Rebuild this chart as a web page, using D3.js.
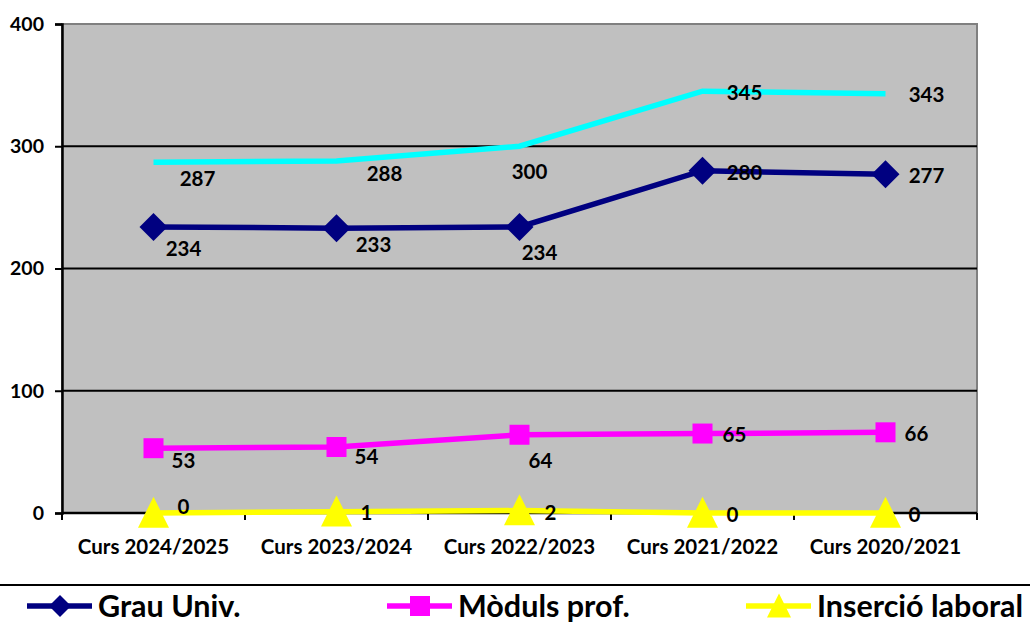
<!DOCTYPE html>
<html>
<head>
<meta charset="utf-8">
<script src="https://cdn.jsdelivr.net/npm/d3@7"></script>
<style>
  body { margin: 0; background: #fff; }
  text { font-family: Lato, "Noto Sans", sans-serif; font-weight: bold; fill: #000; }
</style>
</head>
<body>
<div id="chart"></div>
<script>
// data
const courses = ["Curs 2024/2025", "Curs 2023/2024", "Curs 2022/2023", "Curs 2021/2022", "Curs 2020/2021"]
const totalValues = [287, 288, 300, 345, 343]
const grauValues = [234, 233, 234, 280, 277]
const modulsValues = [53, 54, 64, 65, 66]
const insercioValues = [0, 1, 2, 0, 0]
const yTicks = [0, 100, 200, 300, 400]

// layout
const WIDTH = 1030
const HEIGHT = 626
const PLOT = { LEFT: 62, RIGHT: 977, TOP: 24, BOTTOM: 513 }

// label nudges (Excel placed them by hand, more or less)
const nudges = {
  total: [[44, 17], [48, 13], [10, 26], [42, 2], [41, 1]],
  grau: [[30, 22], [37, 17], [20, 26], [42, 2], [41, 1]],
  moduls: [[30, 13], [30, 10], [21, 26], [32, 1], [31, 2]],
  insercio: [[30, -6], [30, 1], [31, 2], [30, 2], [29, 2]]
}

const series = [
  { key: "total", name: null, values: totalValues, color: "#00FFFF", marker: null },
  { key: "grau", name: "Grau Univ.", values: grauValues, color: "#000080", marker: "diamond" },
  { key: "moduls", name: "Mòduls prof.", values: modulsValues, color: "#FF00FF", marker: "square" },
  { key: "insercio", name: "Inserció laboral", values: insercioValues, color: "#FFFF00", marker: "triangle" }
]

const svg = d3.select("#chart").append("svg")
  .attr("width", WIDTH)
  .attr("height", HEIGHT)

// scales
const x = d3.scaleBand()
  .domain(courses)
  .range([PLOT.LEFT, PLOT.RIGHT])
  .padding(0)
const y = d3.scaleLinear()
  .domain([0, 400])
  .range([PLOT.BOTTOM, PLOT.TOP])
const cx = c => x(c) + x.bandwidth() / 2

// plot background
svg.append("rect")
  .attr("x", PLOT.LEFT)
  .attr("y", PLOT.TOP)
  .attr("width", PLOT.RIGHT - PLOT.LEFT)
  .attr("height", PLOT.BOTTOM - PLOT.TOP)
  .attr("fill", "#C0C0C0")
  .attr("stroke", "#808080")
  .attr("stroke-width", 2)

// gridlines
svg.append("g")
  .selectAll("line")
  .data(yTicks.filter(t => t > 0 && t < 400))
  .join("line")
    .attr("x1", PLOT.LEFT)
    .attr("x2", PLOT.RIGHT)
    .attr("y1", d => y(d))
    .attr("y2", d => y(d))
    .attr("stroke", "#000")
    .attr("stroke-width", 2)

// Y axis
const yAxis = svg.append("g")
  .attr("transform", `translate(${PLOT.LEFT}, 0)`)
  .call(d3.axisLeft(y).tickValues(yTicks).tickSize(7).tickPadding(11))
yAxis.select(".domain").attr("stroke", "#000").attr("stroke-width", 2.5)
yAxis.selectAll(".tick line").attr("stroke", "#000").attr("stroke-width", 2)
yAxis.selectAll(".tick text")
  .attr("font-size", "19.5px")
  .attr("font-family", "Lato, sans-serif")
  .attr("font-weight", "bold")

// X axis, ticks on band edges
const xAxisG = svg.append("g")
  .attr("transform", `translate(0, ${PLOT.BOTTOM})`)
xAxisG.append("line")
  .attr("x1", PLOT.LEFT)
  .attr("x2", PLOT.RIGHT)
  .attr("stroke", "#000")
  .attr("stroke-width", 2.5)
xAxisG.selectAll("line.edge")
  .data(courses.map(c => x(c)).concat([PLOT.RIGHT]))
  .join("line")
    .attr("class", "edge")
    .attr("x1", d => d)
    .attr("x2", d => d)
    .attr("y1", 0)
    .attr("y2", 7)
    .attr("stroke", "#000")
    .attr("stroke-width", 2)
xAxisG.selectAll("text")
  .data(courses)
  .join("text")
    .attr("x", d => cx(d))
    .attr("y", 34)
    .attr("dy", "0.35em")
    .attr("text-anchor", "middle")
    .attr("font-size", "20.5px")
    .text(d => d)

// lines
const line = d3.line()
  .x((d, i) => cx(courses[i]))
  .y(d => y(d))

series.forEach(s => {
  svg.append("path")
    .datum(s.values)
    .attr("fill", "none")
    .attr("stroke", s.color)
    .attr("stroke-width", 5.5)
    .attr("d", line)
})

function markerPath(type, size) {
  if (type === "diamond") return `M0,${-size}L${size},0L0,${size}L${-size},0Z`
  if (type === "square") return `M${-size},${-size}H${size}V${size}H${-size}Z`
  if (type === "triangle") return `M0,${-size * 1.05}L${size},${size * 0.95}L${-size},${size * 0.95}Z`
  return ""
}
const markerSize = { diamond: 14, square: 10, triangle: 15.5 }

series.filter(s => s.marker).forEach(s => {
  svg.append("g")
    .selectAll("path")
    .data(s.values)
    .join("path")
      .attr("transform", (d, i) => `translate(${cx(courses[i])}, ${y(d)})`)
      .attr("d", markerPath(s.marker, markerSize[s.marker]))
      .attr("fill", s.color)
})

// data labels
series.forEach(s => {
  svg.append("g")
    .selectAll("text")
    .data(s.values)
    .join("text")
      .attr("x", (d, i) => cx(courses[i]) + nudges[s.key][i][0])
      .attr("y", (d, i) => y(d) + nudges[s.key][i][1])
      .attr("dy", "0.35em")
      .attr("text-anchor", "middle")
      .attr("font-size", "20.5px")
      .text(d => d)
})

// legend
svg.append("line")
  .attr("x1", 0)
  .attr("x2", WIDTH)
  .attr("y1", 585)
  .attr("y2", 585)
  .attr("stroke", "#000")
  .attr("stroke-width", 2)

const legendX = [27, 387, 746]
const legendMarker = { diamond: 11, square: 10, triangle: 12 }
const legend = svg.append("g")
  .attr("transform", "translate(0, 606)")

series.filter(s => s.name).forEach((s, i) => {
  const row = legend.append("g")
    .attr("transform", `translate(${legendX[i]}, 0)`)
  row.append("line")
    .attr("x1", 0)
    .attr("x2", 65)
    .attr("stroke", s.color)
    .attr("stroke-width", 5.5)
  row.append("path")
    .attr("transform", "translate(33, 0)")
    .attr("d", markerPath(s.marker, legendMarker[s.marker]))
    .attr("fill", s.color)
  row.append("text")
    .attr("x", 71)
    .attr("dy", "0.35em")
    .attr("font-size", "30.5px")
    .text(s.name)
})
</script>
</body>
</html>
